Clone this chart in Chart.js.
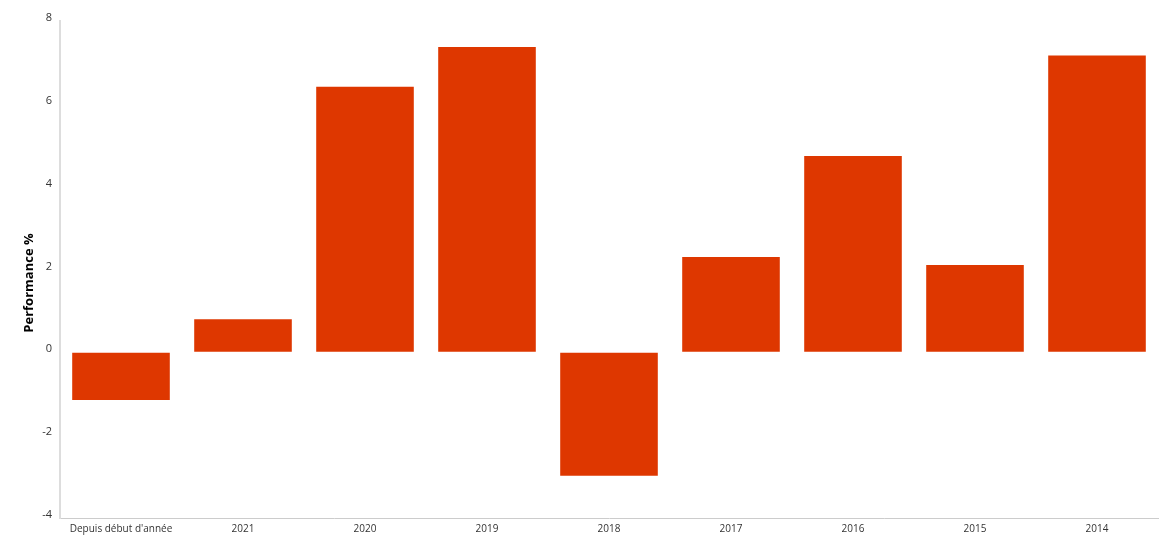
<!DOCTYPE html>
<html>
<head>
<meta charset="utf-8">
<script src="https://cdn.jsdelivr.net/npm/chart.js@4/dist/chart.umd.min.js"></script>
<style>
    html, body { margin: 0; padding: 0; background: #fff; }
    #wrap { width: 1175px; height: 547px; }
</style>
</head>
<body>
<div id="wrap"><canvas id="perf-chart"></canvas></div>
<script>
    "use strict";

    // Data
    var categories = ["Depuis début d'année", "2021", "2020", "2019", "2018", "2017", "2016", "2015", "2014"];
    var performance = [-1.15, 0.80, 6.41, 7.37, -2.98, 2.30, 4.74, 2.11, 7.17];
    var yMin = -4, yMax = 8, yStep = 2;

    Chart.defaults.font.family = "'Open Sans', sans-serif";
    Chart.defaults.font.size = 10;
    Chart.defaults.color = "#333";

    var ctx = document.getElementById("perf-chart").getContext("2d");
    var perfChart = new Chart(ctx, {
        type: "bar",
        data: {
            labels: categories,
            datasets: [{
                label: "Performance",
                data: performance,
                backgroundColor: "#de3700",
                borderWidth: 0,
                categoryPercentage: 1,
                barPercentage: 0.8
            }]
        },
        options: {
            responsive: true,
            maintainAspectRatio: false,
            animation: false,
            layout: { padding: { top: 21, right: 17, left: 0, bottom: 0 } },
            plugins: {
                legend: { display: false },
                tooltip: { enabled: false }
            },
            scales: {
                x: {
                    grid: { display: true, drawOnChartArea: false, drawTicks: false },
                    border: { display: true, color: "#ccc", width: 1 },
                    ticks: { padding: 5, color: "#333", maxRotation: 0 },
                    afterFit: function (scale) { scale.height = 29; }
                },
                y: {
                    min: yMin,
                    max: yMax,
                    grid: { display: true, drawOnChartArea: false, drawTicks: false },
                    border: { display: true, color: "#ddd", width: 2 },
                    ticks: { stepSize: yStep, padding: 8, labelOffset: -3, color: "#333", font: { size: 11 } },
                    title: {
                        display: true,
                        // trailing spaces nudge the rotated title down, as in the original
                        text: "Performance %        ",
                        color: "#000",
                        font: { weight: "bold", size: 13 },
                        padding: { top: 21, bottom: 0 }
                    },
                    afterFit: function (scale) { scale.width = 60; }
                }
            }
        }
    });
</script>
</body>
</html>
